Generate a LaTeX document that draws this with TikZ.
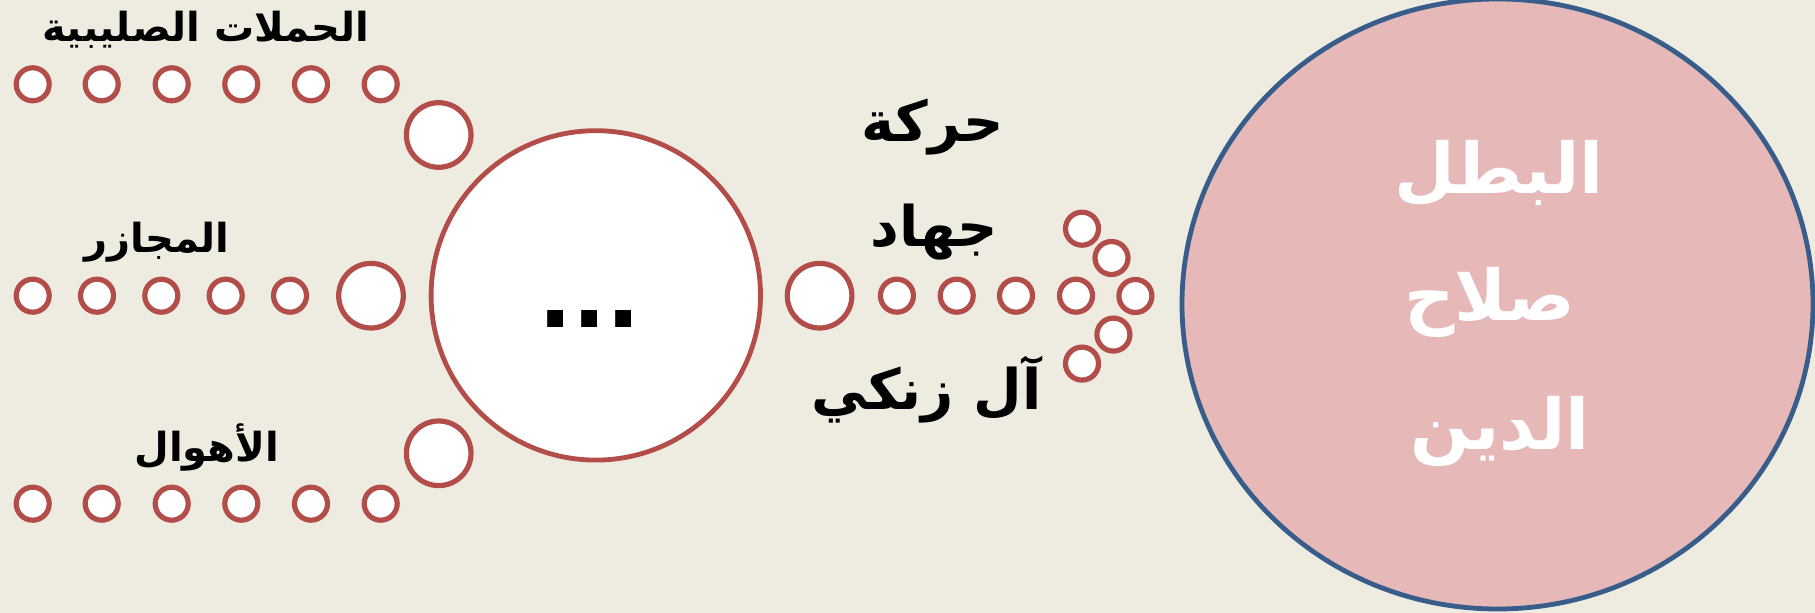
\documentclass[tikz,border=0pt]{standalone}
\usepackage{fontspec}
\usetikzlibrary{shapes.geometric}
\newfontfamily\arabicfont[Script=Arabic]{DejaVu Sans}
\TeXXeTstate=1
\definecolor{bgtan}{HTML}{EEECE1}
\definecolor{ringred}{HTML}{B24D4A}
\definecolor{heroblue}{HTML}{385D8A}
\definecolor{heropink}{HTML}{E6B9B8}
\tikzset{
  smallring/.style={circle, draw=ringred, fill=white, line width=2.6pt, minimum size=16.5pt, inner sep=0pt},
  bigring/.style={circle, draw=ringred, fill=white, line width=2.6pt, minimum size=32.3pt, inner sep=0pt},
  hubring/.style={circle, draw=ringred, fill=white, line width=2.4pt, minimum size=164.7pt, inner sep=0pt},
  heroring/.style={ellipse, draw=heroblue, fill=heropink, line width=2.4pt, minimum width=315.5pt, minimum height=305pt, inner sep=0pt},
  leftlabel/.style={anchor=base, inner sep=0pt, font=\arabicfont\bfseries\fontsize{20}{24}\selectfont},
  rightlabel/.style={anchor=base, inner sep=0pt, font=\arabicfont\bfseries\fontsize{28}{32}\selectfont},
  herolabel/.style={anchor=base, inner sep=0pt, text=white, font=\arabicfont\bfseries\fontsize{35}{40}\selectfont},
  dotslabel/.style={inner sep=0pt, font=\arabicfont\bfseries\fontsize{45}{50}\selectfont}
}
\begin{document}
\begin{tikzpicture}[x=0.5pt,y=-0.5pt]
\fill[bgtan] (0,0) rectangle (1815,613);
\useasboundingbox (0,0) rectangle (1815,613);
% top row
\foreach \i/\x in {1/32.7,2/101.7,3/171.7,4/241.3,5/311,6/380.7}
  \node[smallring] (t\i) at (\x,84.3) {};
\node[bigring] (tb) at (438.7,135) {};
% middle row
\foreach \i/\x in {1/32.7,2/97,3/161.3,4/225.7,5/290}
  \node[smallring] (m\i) at (\x,295.7) {};
\node[bigring] (mb) at (371,295.7) {};
% bottom row
\foreach \i/\x in {1/32.7,2/101.7,3/171.7,4/241.3,5/311,6/380.7}
  \node[smallring] (b\i) at (\x,503.7) {};
\node[bigring] (bb) at (438.7,453.3) {};
% hub
\node[hubring] (hub) at (595.8,295.4) {};
\node[dotslabel] (dots) at (589.7,319.3) {...};
% right side
\node[bigring] (rb) at (819.6,295.7) {};
\foreach \i/\x in {1/896.9,2/956.7,3/1016,4/1076}
  \node[smallring] (r\i) at (\x,295.7) {};
\foreach \i/\x/\y in {1/1082/228.7,2/1111.5/258,3/1135.4/296,4/1113.4/334.6,5/1082/363.6}
  \node[smallring] (c\i) at (\x,\y) {};
% hero
\node[heroring] (hero) at (1497.5,304) {};
\node[herolabel] (h1) at (1499,193.5) {\beginR البطل\endR};
\node[herolabel] (h2) at (1490,321) {\beginR صلاح\endR};
\node[herolabel] (h3) at (1500,449.6) {\beginR الدين\endR};
% labels
\node[leftlabel] (l1) at (206,41.7) {\beginR الحملات الصليبية\endR};
\node[leftlabel] (l2) at (157,253) {\beginR المجازر\endR};
\node[leftlabel] (l3) at (206.7,461.7) {\beginR الأهوال\endR};
\node[rightlabel] (g1) at (932.5,141.7) {\beginR حركة\endR};
\node[rightlabel] (g2) at (934.5,246.7) {\beginR جهاد\endR};
\node[rightlabel] (g3) at (926.5,410) {\beginR آل زنكي\endR};
\end{tikzpicture}
\end{document}
